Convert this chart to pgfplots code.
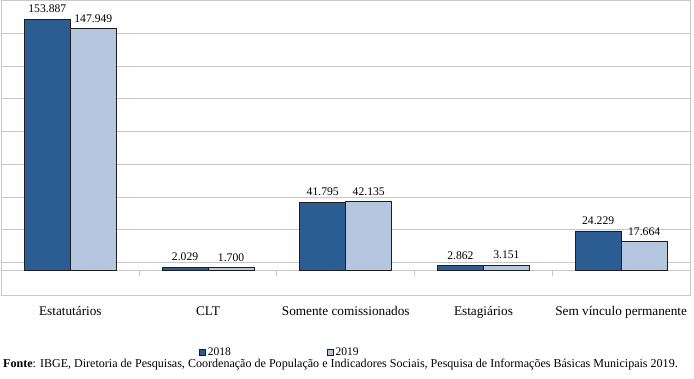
\documentclass[border=0pt]{standalone}
\usepackage{fontspec}
\setmainfont{Liberation Serif}
\usepackage{pgfplots}
\pgfplotsset{compat=1.18}
\definecolor{c2018}{RGB}{43,93,146}
\definecolor{c2019}{RGB}{181,199,222}
\definecolor{gridc}{RGB}{200,200,200}
\definecolor{edge}{RGB}{30,30,30}
\begin{document}
\begin{tikzpicture}[x=1bp,y=1bp]
\useasboundingbox (0,0) rectangle (694,378);
\begin{axis}[
  at={(1.5bp,83bp)}, anchor=south west,
  scale only axis, width=688.5bp, height=294bp,
  xmin=-0.5, xmax=4.5, ymin=-15, ymax=165,
  ybar, bar width=0.334,
  axis line style={gridc, line width=1bp},
  xtick={0,1,2,3,4},
  xticklabels={Estatutários, CLT, Somente comissionados, Estagiários, Sem vínculo permanente},
  xticklabel style={font=\fontsize{13.3}{15}\selectfont, anchor=base, yshift=-16.5bp},
  major x tick style={draw=none},
  extra x ticks={-0.5,0.5,1.5,2.5,3.5,4.5},
  extra x tick labels={},
  extra x tick style={tick align=outside, major tick length=5bp, tick style={gridc, line width=1bp}, xtick pos=bottom},
  ytick={-15,5,25,45,65,85,105,125,145,165}, yticklabels={},
  y tick style={draw=none},
  ymajorgrids, grid style={gridc, line width=1bp},
  extra y ticks={0}, extra y tick labels={},
  extra y tick style={grid style={gridc, line width=1bp}},
  nodes near coords={\pgfmathprintnumber[fixed,zerofill,precision=3,assume math mode=true]{\pgfplotspointmeta}},
  nodes near coords style={font=\fontsize{11.7}{13}\selectfont, inner sep=1.5bp, yshift=4.5bp, black},
  legend columns=2,
  legend style={draw=none, fill=none, at={(axis description cs:0.4045,-0.194)}, anchor=center,
    font=\fontsize{11.6}{12}\selectfont,
    /tikz/every even column/.append style={column sep=94bp}},
  legend image code/.code={\draw[#1, line width=0.6bp] (0bp,-3bp) rectangle (6bp,3bp);},
]
\addplot[fill=c2018, draw=edge, line width=0.8bp, bar shift=-0.167]
  coordinates {(0,153.887) (1,2.029) (2,41.795) (3,2.862) (4,24.229)};
\addplot[fill=c2019, draw=edge, line width=0.8bp, bar shift=0.167]
  coordinates {(0,147.949) (1,1.700) (2,42.135) (3,3.151) (4,17.664)};
\legend{2018,2019}
\pgfplotsinvokeforeach{0.5,1.5,2.5,3.5}{
  \draw[gridc, line width=1bp] (axis cs:#1,0) -- ([yshift=-5bp]axis cs:#1,0);
}
\end{axis}
\node[anchor=base west, font=\fontsize{12.1}{13}\selectfont, inner sep=0pt] at (3,11)
  {\textbf{Fonte}: IBGE, Diretoria de Pesquisas, Coordenação de População e Indicadores Sociais, Pesquisa de Informações Básicas Municipais 2019.};
\end{tikzpicture}
\end{document}
